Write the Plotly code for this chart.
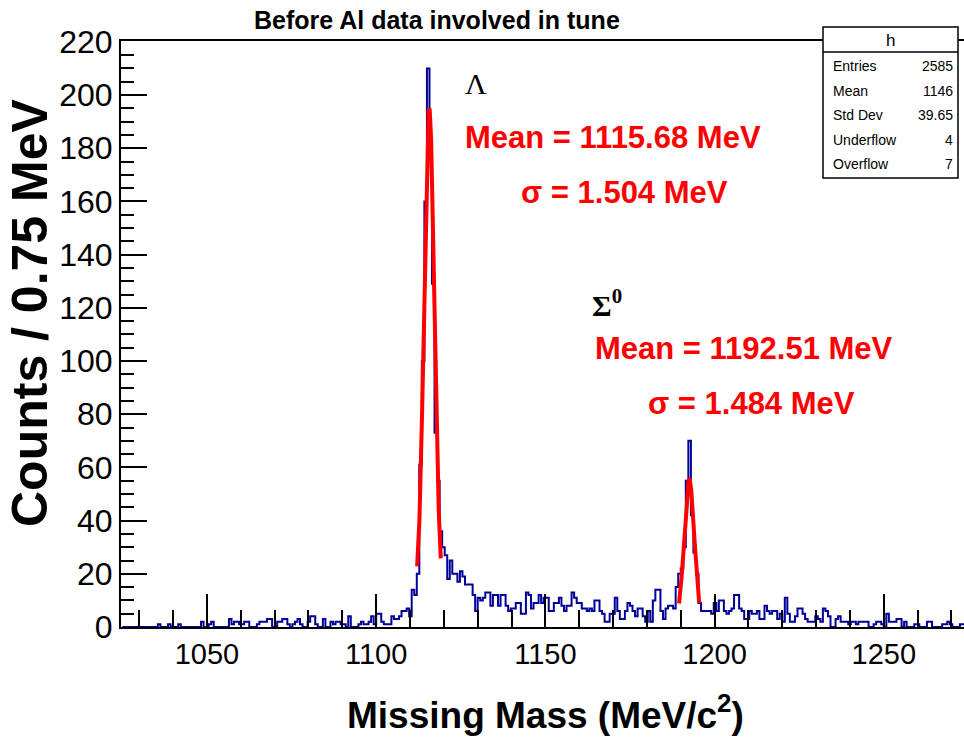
import numpy as np
import plotly.graph_objects as go

# ---------------- data ----------------
BIN_LOW = 1025.0
BIN_WIDTH = 0.75

counts = [
    0, 0, 0, 0, 0, 0, 0, 0, 0, 0, 0, 0, 0, 0, 1, 0, 0, 0, 1, 0,
    0, 0, 1, 0, 0, 0, 0, 0, 0, 0, 0, 2, 0, 0, 1, 2, 0, 0, 0, 0,
    0, 0, 3, 1, 2, 2, 1, 1, 2, 2, 0, 0, 0, 1, 2, 2, 2, 3, 3, 0,
    0, 2, 2, 3, 3, 1, 0, 1, 2, 3, 1, 0, 0, 2, 4, 4, 1, 0, 0, 3,
    0, 0, 2, 1, 2, 2, 1, 1, 0, 4, 0, 0, 0, 1, 2, 1, 1, 2, 4, 1,
    5, 5, 2, 1, 1, 1, 4, 3, 3, 4, 6, 6, 7, 4, 14, 12, 20, 61, 100, 160,
    210, 180, 129, 73, 55, 36, 30, 27, 18, 25, 20, 20, 17, 21, 19, 16, 16, 16, 12, 6,
    11, 10, 11, 13, 13, 8, 12, 12, 8, 12, 12, 8, 6, 7, 7, 9, 9, 5, 5, 13,
    12, 7, 9, 9, 12, 9, 11, 11, 6, 6, 9, 9, 11, 8, 6, 8, 8, 13, 11, 9,
    9, 7, 7, 6, 7, 6, 10, 10, 6, 5, 2, 2, 5, 5, 11, 6, 3, 3, 6, 9,
    8, 6, 4, 7, 7, 4, 2, 6, 2, 10, 14, 14, 6, 3, 7, 8, 8, 7, 15, 20,
    22, 30, 55, 70, 42, 28, 20, 9, 6, 6, 6, 6, 5, 9, 6, 10, 10, 6, 5, 6,
    7, 12, 12, 7, 6, 3, 3, 6, 5, 5, 6, 3, 3, 8, 6, 5, 6, 6, 3, 5,
    2, 11, 5, 2, 2, 4, 7, 7, 5, 3, 2, 2, 2, 4, 3, 2, 7, 6, 4, 0,
    0, 3, 4, 2, 2, 2, 1, 2, 2, 1, 2, 2, 2, 2, 0, 0, 1, 2, 2, 1,
    0, 5, 2, 2, 2, 3, 3, 0, 2, 0, 0, 0, 1, 1, 0, 0, 0, 2, 2, 0,
    0, 0, 0, 1, 1, 2, 1, 0, 0, 0, 1, 1,
]

x_tick_vals = [1050, 1100, 1150, 1200, 1250]
y_tick_vals = [0, 20, 40, 60, 80, 100, 120, 140, 160, 180, 200, 220]

# Gaussian fit results (norm, mean, sigma, constant, fit range)
lambda_fit = {"norm": 183.0, "mean": 1115.68, "sigma": 1.504, "const": 12.0, "xmin": 1112.1, "xmax": 1119.1}
sigma0_fit = {"norm": 53.5, "mean": 1192.51, "sigma": 1.484, "const": 2.0, "xmin": 1189.5, "xmax": 1195.5}

stats_labels = ["Entries", "Mean", "Std Dev", "Underflow", "Overflow"]
stats_values = ["2585", "1146", "39.65", "4", "7"]

# ---------------- figure ----------------
W, H = 964, 739
L, R, T, B = 121, 964, 41, 627   # plot-area pixel box

def px(x):
    return (x - L) / (R - L)

def py(y):
    return (B - y) / (B - T)

SANS = "Liberation Sans, Arial, sans-serif"
SERIF = "Liberation Serif, Times New Roman, serif"

edges = BIN_LOW + BIN_WIDTH * np.arange(len(counts) + 1)
hist_y = list(counts) + [counts[-1]]

fig = go.Figure()
fig.add_trace(go.Scatter(
    x=edges, y=hist_y, mode="lines",
    line=dict(color="#000099", width=2, shape="hv"),
    hoverinfo="skip", showlegend=False,
))

for fit in (lambda_fit, sigma0_fit):
    xf = np.linspace(fit["xmin"], fit["xmax"], 100)
    yf = fit["norm"] * np.exp(-0.5 * ((xf - fit["mean"]) / fit["sigma"]) ** 2) + fit["const"]
    fig.add_trace(go.Scatter(
        x=xf, y=yf, mode="lines",
        line=dict(color="#ff0000", width=4),
        hoverinfo="skip", showlegend=False,
    ))

annotations = []

def add_text(text, x, y, size, color="black", family=SANS, weight="bold", xanchor="center", angle=0):
    annotations.append(dict(
        text=text, x=px(x), y=py(y), xref="paper", yref="paper",
        showarrow=False, xanchor=xanchor, yanchor="middle", textangle=angle,
        font=dict(size=size, color=color, family=family, weight=weight),
    ))

add_text("Before Al data involved in tune", 437, 20, 25)
add_text("Λ", 476, 84, 30, family=SERIF, weight="normal")
add_text("Mean = 1115.68 MeV", 463, 137, 31, color="#ff0000", xanchor="left")
add_text("σ = 1.504 MeV", 519, 193, 31, color="#ff0000", xanchor="left")
add_text("Σ<sup>0</sup>", 590, 303, 30, family=SERIF, weight="bold", xanchor="left")
add_text("Mean = 1192.51 MeV", 593, 348, 31, color="#ff0000", xanchor="left")
add_text("σ = 1.484 MeV", 646, 403, 31, color="#ff0000", xanchor="left")
add_text("Missing Mass (MeV/c<sup>2</sup>)", 545, 712, 37)
add_text("Counts / 0.75 MeV", 30, 313, 50, angle=-90)

# stats box
box_x0, box_x1, box_y0, box_y1, head_y = 823, 958, 27, 178, 52
shapes = [
    dict(type="rect", xref="paper", yref="paper", x0=px(box_x0), x1=px(box_x1),
         y0=py(box_y1), y1=py(box_y0), line=dict(color="black", width=1.5), fillcolor="white", layer="above"),
    dict(type="line", xref="paper", yref="paper", x0=px(box_x0), x1=px(box_x1),
         y0=py(head_y), y1=py(head_y), line=dict(color="black", width=1.5), layer="above"),
]
add_text("h", (box_x0 + box_x1) / 2, 40, 17, weight="normal")
row_y = [66, 91, 115, 140, 164]
for lab, val, yy in zip(stats_labels, stats_values, row_y):
    add_text(lab, 831, yy, 14, weight="normal", xanchor="left")
    add_text(val, 955, yy, 14, weight="normal", xanchor="right")

fig.update_layout(
    width=W, height=H,
    margin=dict(l=L, r=W - R, t=T, b=H - B, pad=0),
    paper_bgcolor="white", plot_bgcolor="white",
    showlegend=False,
    annotations=annotations,
    shapes=shapes,
    xaxis=dict(
        range=[1024.6, 1273.7], showgrid=False, zeroline=False,
        showline=True, linecolor="black", linewidth=2, mirror=True,
        ticks="inside", ticklen=33, tickwidth=2, tickcolor="black",
        tickvals=x_tick_vals, ticktext=[str(v) for v in x_tick_vals],
        tickfont=dict(size=29, family=SANS, color="black"),
        minor=dict(dtick=10, tick0=1030, ticks="inside", ticklen=17, tickwidth=2, tickcolor="black", showgrid=False),
    ),
    yaxis=dict(
        range=[0, 220.3], showgrid=False, zeroline=False,
        showline=True, linecolor="black", linewidth=2, mirror=False,
        ticks="inside", ticklen=26, tickwidth=2, tickcolor="black",
        tickvals=y_tick_vals, ticktext=[str(v) for v in y_tick_vals],
        tickfont=dict(size=32, family=SANS, color="black"),
        minor=dict(dtick=5, tick0=0, ticks="inside", ticklen=13, tickwidth=2, tickcolor="black", showgrid=False),
    ),
)

fig.write_html("out.html")
